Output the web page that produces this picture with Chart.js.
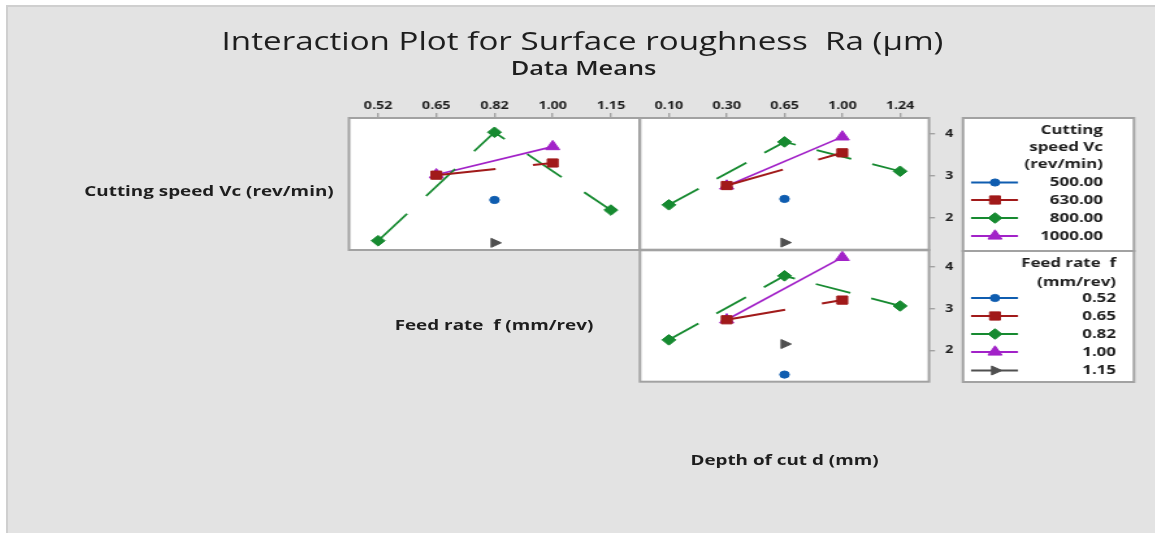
<!DOCTYPE html>
<html>
<head>
<meta charset="utf-8">
<script src="https://cdn.jsdelivr.net/npm/chart.js@4.4.1/dist/chart.umd.min.js"></script>
<style>
  html, body { margin: 0; padding: 0; background: #ffffff; overflow: hidden; width: 1155px; height: 533px; }
  #bg { position: absolute; left: 6px; top: 5px; width: 1160px; height: 540px; background: #e3e3e3;
        border-left: 2px solid #cfcfcf; border-top: 2px solid #cfcfcf; }
  #fig { position: absolute; left: 0; top: 0; width: 900px; height: 533px; transform: scaleX(1.3); transform-origin: 0 0; }
  #fig canvas { position: absolute; }
  .lbl { position: absolute; white-space: pre; text-align: center; color: #1e1e1e; }
</style>
</head>
<body>
<div id="bg"></div>
<div id="fig">
  <canvas id="panelSpeedFeed"></canvas>
  <canvas id="panelSpeedDepth"></canvas>
  <canvas id="panelFeedDepth"></canvas>
</div>
<script>
// Interaction plot (data means) for surface roughness Ra.
// The figure is laid out in page pixels and drawn with a horizontal stretch S.
const S = 1.3;

// ---- factor levels ----
const feedLevels  = ['0.52', '0.65', '0.82', '1.00', '1.15'];
const depthLevels = ['0.10', '0.30', '0.65', '1.00', '1.24'];
const speedNames  = ['500.00', '630.00', '800.00', '1000.00', '1200.00'];
const feedNames   = ['0.52', '0.65', '0.82', '1.00', '1.15'];
const yTicks = [2, 3, 4];

// ---- mean Ra, cutting speed lines across feed rate ----
const vc500ByFeed   = [null, null, 2.42, null, null];
const vc630ByFeed   = [null, 3.01, null, 3.30, null];
const vc800ByFeed   = [1.45, null, 4.03, null, 2.18];
const vc1000ByFeed  = [null, 3.02, null, 3.69, null];
const vcTopByFeed   = [null, null, 1.40, null, null];

// ---- mean Ra, cutting speed lines across depth of cut ----
const vc500ByDepth  = [null, null, 2.44, null, null];
const vc630ByDepth  = [null, 2.76, null, 3.54, null];
const vc800ByDepth  = [2.30, null, 3.80, null, 3.10];
const vc1000ByDepth = [null, 2.75, null, 3.92, null];
const vcTopByDepth  = [null, null, 1.40, null, null];

// ---- mean Ra, feed rate lines across depth of cut ----
const f052ByDepth = [null, null, 1.42, null, null];
const f065ByDepth = [null, 2.73, null, 3.20, null];
const f082ByDepth = [2.25, null, 3.78, null, 3.06];
const f100ByDepth = [null, 2.73, null, 4.22, null];
const f115ByDepth = [null, null, 2.15, null, null];

// ---- look ----
const FONT = '"Open Sans", "Noto Sans", "DejaVu Sans", sans-serif';
const TEXT = '#1e1e1e';
const FRAME = '#a2a2a2';
const STYLES = [
  { color: '#0f5db0', shape: 'circle',   radius: 3.6, rotation: 0,  width: 2 },
  { color: '#a11a1a', shape: 'rect',     radius: 5.8, rotation: 0,  width: 2 },
  { color: '#168a30', shape: 'rectRot',  radius: 5.3, rotation: 0,  width: 1.8 },
  { color: '#a222c8', shape: 'triangle', radius: 6.2, rotation: 0,  width: 1.7 },
  { color: '#505050', shape: 'triangle', radius: 5.2, rotation: 90, width: 2 }
];
const RED_DASH = [46, 29];
const GREEN_DASH_FEED = [35, 23];
const GREEN_DASH_DEPTH = [28, 17];

function series(label, data, idx, dash) {
  const st = STYLES[idx];
  return {
    label, data,
    borderColor: st.color, backgroundColor: st.color,
    pointBackgroundColor: st.color, pointBorderColor: st.color,
    pointStyle: st.shape, pointRadius: st.radius, pointHoverRadius: st.radius,
    pointRotation: st.rotation, pointBorderWidth: 1,
    borderWidth: st.width, borderDash: dash || [],
    spanGaps: true, tension: 0, fill: false
  };
}

// white plot area with a grey frame
const panelFrame = {
  id: 'panelFrame',
  beforeDraw(chart) {
    const { ctx, chartArea: a } = chart;
    ctx.save();
    ctx.fillStyle = '#ffffff';
    ctx.fillRect(a.left, a.top, a.width, a.height);
    ctx.restore();
  },
  afterDraw(chart) {
    const { ctx, chartArea: a } = chart;
    ctx.save();
    ctx.strokeStyle = FRAME;
    ctx.lineWidth = 2;
    ctx.setLineDash([]);
    ctx.strokeRect(a.left, a.top, a.width, a.height);
    ctx.restore();
  }
};

// boxed legend drawn beside a panel, entries taken from the datasets
const sideLegend = {
  id: 'sideLegend',
  afterDraw(chart, args, o) {
    const ctx = chart.ctx;
    const X = px => px / S - o.originX;
    const Y = py => py - o.originY;
    const [x0, y0, x1, y1] = o.box;
    ctx.save();
    ctx.fillStyle = '#ffffff';
    ctx.fillRect(X(x0), Y(y0), X(x1) - X(x0), Y(y1) - Y(y0));
    ctx.strokeStyle = FRAME;
    ctx.lineWidth = 2;
    ctx.strokeRect(X(x0), Y(y0), X(x1) - X(x0), Y(y1) - Y(y0));
    ctx.font = 'bold 13px ' + FONT;
    ctx.fillStyle = TEXT;
    ctx.textAlign = 'right';
    ctx.textBaseline = 'middle';
    o.title.forEach((t, i) => ctx.fillText(t, X(o.textRight), Y(o.titleY[i])));
    chart.data.datasets.slice(0, o.rowY.length).forEach((ds, i) => {
      const y = Y(o.rowY[i]);
      ctx.setLineDash([]);
      ctx.strokeStyle = ds.borderColor;
      ctx.lineWidth = 2;
      ctx.beginPath();
      ctx.moveTo(X(o.symbol[0]), y);
      ctx.lineTo(X(o.symbol[2]), y);
      ctx.stroke();
      ctx.fillStyle = ds.backgroundColor;
      ctx.lineWidth = 1;
      Chart.helpers.drawPoint(ctx, {
        pointStyle: ds.pointStyle, rotation: ds.pointRotation,
        radius: ds.pointRadius, borderWidth: 1
      }, X(o.symbol[1]), y);
      ctx.fillStyle = TEXT;
      ctx.fillText(ds.label, X(o.textRight), y);
    });
    ctx.restore();
  }
};

function buildPanel(id, rect, cfg) {
  const canvas = document.getElementById(id);
  const dl = rect.L / S, dr = rect.R / S;
  const topH = cfg.topAxis ? 28 : 0;
  const rightW = cfg.rightAxis ? 26 / S : 0;
  const margin = 14;
  const cx = Math.floor(dl) - margin;
  const rightEnd = cfg.legend ? 1145 / S : dr + rightW + margin;
  const cw = Math.ceil(rightEnd - cx);
  const cy = rect.T - topH - margin;
  const ch = rect.B + margin - cy;
  canvas.width = cw; canvas.height = ch;
  canvas.style.left = cx + 'px'; canvas.style.top = cy + 'px';
  canvas.style.width = cw + 'px'; canvas.style.height = ch + 'px';
  const tickFont = { family: FONT, size: 11, weight: 'bold' };
  return new Chart(canvas, {
    type: 'line',
    data: { labels: cfg.labels, datasets: cfg.datasets },
    options: {
      responsive: false, animation: false, events: [],
      layout: { padding: { left: dl - cx, right: cx + cw - dr - rightW, top: margin, bottom: margin } },
      plugins: {
        legend: { display: false },
        tooltip: { enabled: false },
        sideLegend: cfg.legend ? Object.assign({ originX: cx, originY: cy }, cfg.legend) : false
      },
      scales: {
        x: {
          type: 'category', position: 'top', offset: true, display: cfg.topAxis,
          grid: { drawOnChartArea: false, drawTicks: true, tickLength: 5, color: FRAME, lineWidth: 1.4, offset: false },
          border: { display: false },
          ticks: { font: tickFont, color: TEXT, padding: 1, maxRotation: 0, autoSkip: false },
          afterFit(s) { s.height = topH; }
        },
        y: {
          type: 'linear', position: 'right', min: cfg.yMin, max: cfg.yMax, display: cfg.rightAxis,
          afterBuildTicks(s) { s.ticks = yTicks.map(v => ({ value: v })); },
          grid: { drawOnChartArea: false, drawTicks: true, tickLength: 4.6, color: FRAME, lineWidth: 1.4 },
          border: { display: false },
          ticks: { font: tickFont, color: TEXT, padding: 7.7 },
          afterFit(s) { s.width = rightW; }
        }
      }
    },
    plugins: [panelFrame, sideLegend]
  });
}

// Cutting speed x Feed rate
buildPanel('panelSpeedFeed', { L: 349, T: 118, R: 640, B: 250 }, {
  labels: feedLevels, topAxis: true, rightAxis: false, yMin: 1.23, yMax: 4.37,
  datasets: [
    series(speedNames[0], vc500ByFeed, 0),
    series(speedNames[1], vc630ByFeed, 1, RED_DASH),
    series(speedNames[2], vc800ByFeed, 2, GREEN_DASH_FEED),
    series(speedNames[3], vc1000ByFeed, 3),
    series(speedNames[4], vcTopByFeed, 4)
  ]
});

// Cutting speed x Depth of cut, with the cutting speed legend
buildPanel('panelSpeedDepth', { L: 640, T: 118, R: 929, B: 250 }, {
  labels: depthLevels, topAxis: true, rightAxis: true, yMin: 1.23, yMax: 4.37,
  datasets: [
    series(speedNames[0], vc500ByDepth, 0),
    series(speedNames[1], vc630ByDepth, 1, RED_DASH),
    series(speedNames[2], vc800ByDepth, 2, GREEN_DASH_DEPTH),
    series(speedNames[3], vc1000ByDepth, 3),
    series(speedNames[4], vcTopByDepth, 4)
  ],
  legend: {
    box: [963, 118, 1134, 251],
    title: ['Cutting', 'speed Vc', '(rev/min)'],
    titleY: [130.5, 147.5, 164.5],
    rowY: [182.5, 200, 218, 236],
    textRight: 1103,
    symbol: [971, 995, 1018]
  }
});

// Feed rate x Depth of cut, with the feed rate legend
buildPanel('panelFeedDepth', { L: 640, T: 250, R: 929, B: 382 }, {
  labels: depthLevels, topAxis: false, rightAxis: true, yMin: 1.25, yMax: 4.39,
  datasets: [
    series(feedNames[0], f052ByDepth, 0),
    series(feedNames[1], f065ByDepth, 1, RED_DASH),
    series(feedNames[2], f082ByDepth, 2, GREEN_DASH_DEPTH),
    series(feedNames[3], f100ByDepth, 3),
    series(feedNames[4], f115ByDepth, 4)
  ],
  legend: {
    box: [963, 251, 1134, 382],
    title: ['Feed rate  f', '(mm/rev)'],
    titleY: [263.5, 282],
    rowY: [298, 316, 334, 352, 370.5],
    textRight: 1116,
    symbol: [971, 995, 1018]
  }
});

// titles and factor names
const fig = document.getElementById('fig');
function addText(text, cx, baseline, size, weight) {
  const d = document.createElement('div');
  d.className = 'lbl';
  d.textContent = text;
  d.style.font = weight + ' ' + size + 'px ' + FONT;
  d.style.lineHeight = size + 'px';
  d.style.left = (cx / S - 300) + 'px';
  d.style.width = '600px';
  d.style.top = (baseline - 0.888 * size) + 'px';
  fig.appendChild(d);
}
addText('Interaction Plot for Surface roughness  Ra (\u00b5m)', 582.5, 51, 25.5, 500);
addText('Data Means', 583.5, 75, 19.5, 600);
addText('Cutting speed Vc (rev/min)', 209, 196.5, 14.5, 700);
addText('Feed rate  f (mm/rev)', 494, 331, 14.5, 700);
addText('Depth of cut d (mm)', 784.5, 466, 14.5, 700);
</script>
</body>
</html>
